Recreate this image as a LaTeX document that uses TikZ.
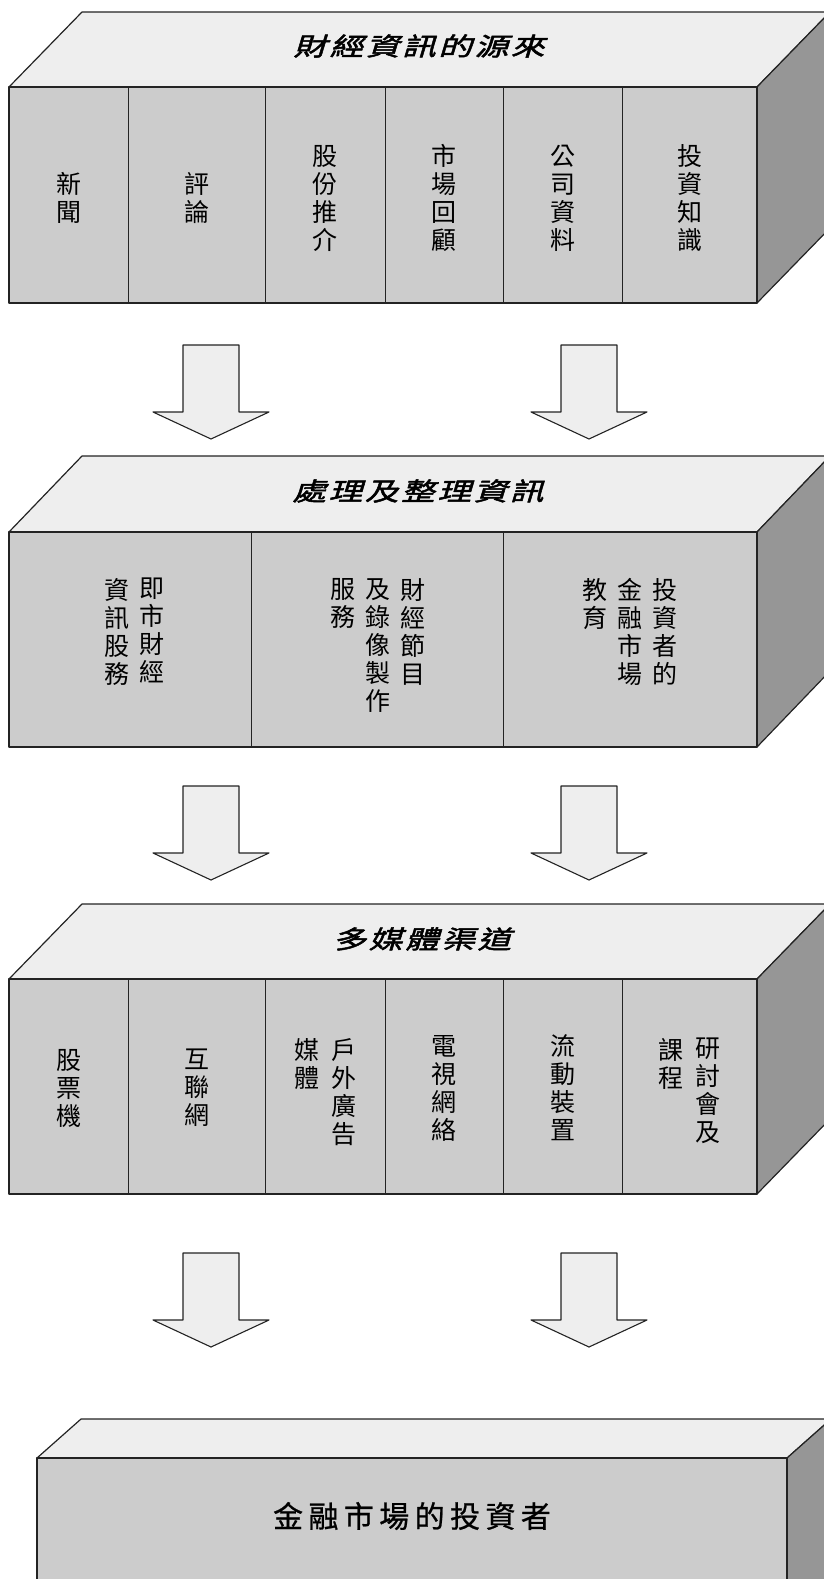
\documentclass[tikz,border=0pt]{standalone}
\usepackage{fontspec}
\usepackage{tikz}
\usetikzlibrary{positioning,calc}
\newfontfamily\cjk{Noto Sans CJK TC}
\newfontfamily\titlefont[FakeSlant=0.3,FakeStretch=1.35,FakeBold=2,LetterSpace=10]{Noto Sans CJK TC}
\newfontfamily\investorfont[FakeBold=0.8,LetterSpace=18]{Noto Sans CJK TC}
\definecolor{topgray}{RGB}{238, 238, 238}
\definecolor{frontgray}{RGB}{204, 204, 204}
\definecolor{sidegray}{RGB}{150, 150, 150}
\definecolor{edgedark}{RGB}{35, 35, 35}

% slab: left x, right x, top y, bottom y, depth x, depth y
\newcommand\slab[6]{%
  \draw[face,fill=topgray] (#1,#3) -- ++(#5,-#6) -- (#2+#5,#3-#6) -- (#2,#3) -- cycle;
  \draw[face,fill=sidegray] (#2,#3) -- ++(#5,-#6) -- (#2+#5,#4-#6) -- (#2,#4) -- cycle;
  \draw[face,fill=frontgray] (#1,#3) rectangle (#2,#4);
}
% block arrow: centre x, top y
\newcommand\flowarrow[2]{%
  \draw[arrowbody] (#1-28,#2) -- (#1+28,#2) -- (#1+28,#2+67) -- (#1+58,#2+67)
    -- (#1,#2+94) -- (#1-58,#2+67) -- (#1-28,#2+67) -- cycle;
}

\begin{document}
\begin{tikzpicture}[x=1pt,y=-1pt,line join=round,
    face/.style={draw=edgedark,line width=1.2pt},
    divider/.style={draw=edgedark,line width=1pt},
    arrowbody/.style={draw=edgedark,line width=1.1pt,fill=topgray},
    coltext/.style={font=\fontsize{25}{28}\selectfont\cjk,align=center,inner sep=0pt},
    titletext/.style={font=\fontsize{25}{28}\selectfont\titlefont,inner sep=0pt},
    investortext/.style={font=\fontsize{30}{34}\selectfont\investorfont,inner sep=0pt}]
    \clip (0,0) rectangle (824,1579);

    % Sources of financial information
    \slab{9}{757}{87}{303}{73}{75}
    \foreach \x in {128,265,385,503,622}
        \draw[divider] (\x,87) -- (\x,303);
    \node[titletext] (srctitle) at (419,46) {財經資訊的源來};
    \node[coltext] (src1) at (68.5,198) {新\\聞};
    \node[coltext] (src2) at (196.5,198) {評\\論};
    \node[coltext] (src3) at (325,198) {股\\份\\推\\介};
    \node[coltext] (src4) at (444,198) {市\\場\\回\\顧};
    \node[coltext] (src5) at (562.5,198) {公\\司\\資\\料};
    \node[coltext] (src6) at (689.5,198) {投\\資\\知\\識};

    % arrows
    \foreach \y in {345,786,1253} {
        \flowarrow{211}{\y}
        \flowarrow{589}{\y}
    }

    % Processing and sorting information
    \slab{9}{757}{532}{747}{73}{76}
    \foreach \x in {251,503}
        \draw[divider] (\x,532) -- (\x,747);
    \node[titletext] (proctitle) at (418,491) {處理及整理資訊};
    \node[coltext,anchor=north] (proc1a) at (151.5,578) {即\\市\\財\\經};
    \node[coltext,anchor=north] (proc1b) at (116.5,578) {資\\訊\\股\\務};
    \node[coltext,anchor=north] (proc2a) at (413,578) {財\\經\\節\\目};
    \node[coltext,anchor=north] (proc2b) at (378,578) {及\\錄\\像\\製\\作};
    \node[coltext,anchor=north] (proc2c) at (343,578) {服\\務};
    \node[coltext,anchor=north] (proc3a) at (665,578) {投\\資\\者\\的};
    \node[coltext,anchor=north] (proc3b) at (630,578) {金\\融\\市\\場};
    \node[coltext,anchor=north] (proc3c) at (595,578) {教\\育};

    % Multimedia channels
    \slab{9}{757}{979}{1194}{73}{75}
    \foreach \x in {128,265,385,503,622}
        \draw[divider] (\x,979) -- (\x,1194);
    \node[titletext] (chantitle) at (422,939) {多媒體渠道};
    \node[coltext] (chan1) at (68.5,1088) {股\\票\\機};
    \node[coltext] (chan2) at (196.5,1088) {互\\聯\\網};
    \node[coltext,anchor=north] (chan3a) at (343.5,1038) {戶\\外\\廣\\告};
    \node[coltext,anchor=north] (chan3b) at (306.5,1038) {媒\\體};
    \node[coltext] (chan4) at (444,1088) {電\\視\\網\\絡};
    \node[coltext] (chan5) at (562.5,1088) {流\\動\\裝\\置};
    \node[coltext,anchor=north] (chan6a) at (708,1038) {研\\討\\會\\及};
    \node[coltext,anchor=north] (chan6b) at (671,1038) {課\\程};

    % Investors in the financial market
    \slab{37}{787}{1458}{1620}{44}{39}
    \node[investortext] (investors) at (412,1516) {金融市場的投資者};
\end{tikzpicture}
\end{document}
